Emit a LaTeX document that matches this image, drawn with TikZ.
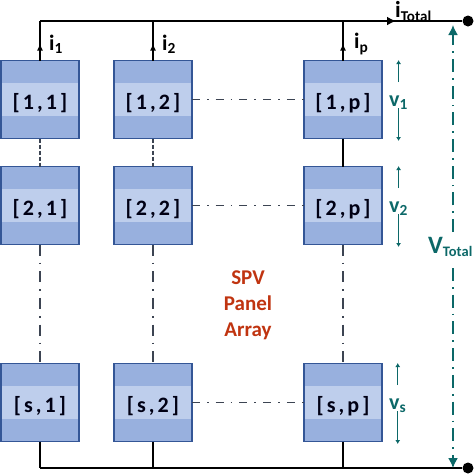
\documentclass[tikz,border=0pt]{standalone}
\usepackage{fontspec}
\setmainfont{Carlito}
\usetikzlibrary{positioning,arrows.meta,calc}
\definecolor{banddark}{RGB}{152,176,222}
\definecolor{bandlight}{RGB}{190,206,236}
\definecolor{boxedge}{RGB}{52,86,150}
\definecolor{linkgray}{RGB}{60,68,82}
\definecolor{voltteal}{RGB}{12,104,104}
\definecolor{arrayred}{RGB}{192,52,16}

\begin{document}
\begin{tikzpicture}[
    x=1pt, y=1pt,
    font=\bfseries\fontsize{22}{24}\selectfont,
    pvbox/.style={draw=boxedge, line width=1.5pt, fill=banddark, minimum size=78pt,
                  inner sep=0pt, outer sep=0pt, text=black!92!blue, text height=26pt, text depth=7pt,
                  font=\bfseries\fontsize{22}{24}\selectfont\addfontfeature{LetterSpace=14},
                  path picture={\fill[bandlight] ($(path picture bounding box.west)+(0,16.5)$)
                  rectangle ($(path picture bounding box.east)+(0,-16.5)$);}},
    wire/.style={line width=2pt, black},
    bus/.style={line width=2.3pt, black},
    vdash/.style={line width=2pt, linkgray, dash pattern=on 4pt off 2pt},
    chain/.style={line width=1.7pt, linkgray, dash pattern=on 11pt off 7pt on 1.7pt off 7pt},
    hchain/.style={line width=1.7pt, linkgray, dash pattern=on 8pt off 7pt on 1.7pt off 7pt},
    voltup/.style={-{Latex[length=4pt,width=5pt]}, line width=1.3pt, voltteal},
    total/.style={-{Latex[length=10pt,width=10pt]}, line width=1.6pt, voltteal,
                  dash pattern=on 13pt off 6pt on 1.7pt off 6pt},
    lbl/.style={inner sep=0pt, font=\bfseries\fontsize{22}{24}\selectfont},
    vlbl/.style={lbl, text=voltteal},
    tip/.style={-{Latex[length=7pt,width=6pt]}, wire}
]
\useasboundingbox (0,0) rectangle (474,-475);
% panels
\node[pvbox] (b11) at (40,-99.5) {[1,1]};
\node[pvbox, right=35pt of b11] (b12) {[1,2]};
\node[pvbox, right=112pt of b12] (b1p) {[1,p]};
\node[pvbox, below=28pt of b11] (b21) {[2,1]};
\node[pvbox, right=35pt of b21] (b22) {[2,2]};
\node[pvbox, right=112pt of b22] (b2p) {[2,p]};
\node[pvbox, below=119pt of b21] (bs1) {[s,1]};
\node[pvbox, right=35pt of bs1] (bs2) {[s,2]};
\node[pvbox, right=112pt of bs2] (bsp) {[s,p]};
% terminals
\coordinate (t1) at (40,-21);
\coordinate (t2) at (153,-21);
\coordinate (t3) at (343,-21);
\coordinate (g1) at (40,-468);
\coordinate (g2) at (153,-468);
\coordinate (g3) at (343,-468);
\node[circle, fill=black, minimum size=11pt, inner sep=0pt] (dtop) at (468,-21) {};
\node[circle, fill=black, minimum size=11pt, inner sep=0pt] (dbot) at (468,-468) {};
% wires
\draw[bus] (t1) -- (dtop);
\draw[bus] (g1) -- (dbot);
\draw[-{Latex[length=9pt,width=9pt]}, wire] (t3) -- (396,-21);
\foreach \b/\t in {b11/t1, b12/t2, b1p/t3}{
  \draw[wire] (\b) ++(0,39) -- (\t);
  \draw[tip] (\b) ++(0,39) -- ++(0,17);
}
\draw[wire] (bs1.south) -- (g1);
\draw[wire] (bs2.south) -- (g2);
\draw[wire] (bsp.south) -- (g3);
\draw[wire] (b1p) -- (b2p);
% links
\draw[vdash] (b11) -- (b21);
\draw[vdash] (b12) -- (b22);
\draw[chain] (b21) -- (bs1);
\draw[chain] (b22) -- (bs2);
\draw[chain] (b2p) -- (bsp);
\draw[hchain] (b12) -- (b1p);
\draw[hchain] (b22) -- (b2p);
\draw[hchain] (bs2) -- (bsp);
% currents
\node[lbl, right=9pt of t1, yshift=-23pt] (i1) {i\textsubscript{1}};
\node[lbl, right=9pt of t2, yshift=-23pt] (i2) {i\textsubscript{2}};
\node[lbl, right=11pt of t3, yshift=-23pt] (ip) {i\textsubscript{p}};
\node[lbl, anchor=west] (itot) at (395,-11.5) {\fontsize{23}{23}\selectfont i\textsubscript{\fontsize{15}{15}\selectfont Total}};
% voltages
\foreach \b/\n/\s in {b1p/v1/1, b2p/v2/2, bsp/vs/s}{
  \node[vlbl, right=7pt of \b, yshift=-3pt] (\n) {v\textsubscript{\s}};
  \draw[voltup] (\n) ++(0,20.5) -- ++(0,22);
  \draw[voltup] (\n) ++(0,-5.5) -- ++(0,-33);
}
\node[vlbl, font=\bfseries\fontsize{25}{27}\selectfont, anchor=east] (vt) at (473,-247) {V\textsubscript{\fontsize{14.5}{15}\selectfont Total}};
\draw[total] (453,-232) -- (453,-25);
\draw[total] (453,-268) -- (453,-468);
% title
\node[align=center, text=arrayred, font=\bfseries\fontsize{21}{26}\selectfont] (title) at (248,-305.5) {SPV\\Panel\\Array};
\end{tikzpicture}
\end{document}
